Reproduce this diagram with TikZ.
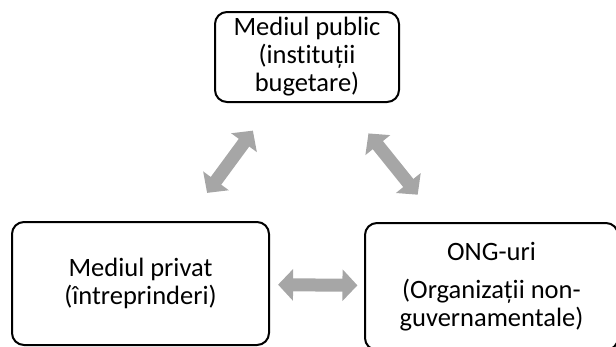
\documentclass[tikz,border=0pt]{standalone}
\usepackage{fontspec}
\setmainfont{Carlito}[Ligatures={NoCommon,NoRare,NoContextual}]
\usetikzlibrary{arrows.meta,calc}
\definecolor{linkgray}{HTML}{A6A6A6}
\begin{document}
\begin{tikzpicture}[x=1pt,y=-1pt,
  box/.style={draw=black, line width=2pt, rounded corners=12pt, align=center,
    inner sep=0pt, font=\fontsize{26.5}{28}\selectfont},
  link/.style={draw=linkgray, line width=13pt,
    {Triangle[length=15pt,width=31pt]}-{Triangle[length=15pt,width=31pt]}}]
\useasboundingbox (0,0) rectangle (616,346);
% the three sectors
\node[box, minimum width=184pt, minimum height=90pt] (pub) at (307,57)
  {Mediul public\\(instituții\\bugetare)};
\node[box, minimum width=257pt, minimum height=123pt] (priv) at (140.5,283.5)
  {Mediul privat\\(întreprinderi)};
\node[box, minimum width=253pt, minimum height=127pt] (ong) at (491.5,286.5)
  {ONG-uri\\[10pt](Organizații non-\\guvernamentale)};
% two-way links between the sectors
\draw[link] ($(priv)!0.40!(pub)$) -- ($(priv)!0.675!(pub)$);
\draw[link] ($(pub)!0.333!(ong)$) -- ($(pub)!0.60!(ong)$);
\draw[link] ($(priv)!0.392!(ong)$) -- ($(priv)!0.618!(ong)$);
\end{tikzpicture}
\end{document}
